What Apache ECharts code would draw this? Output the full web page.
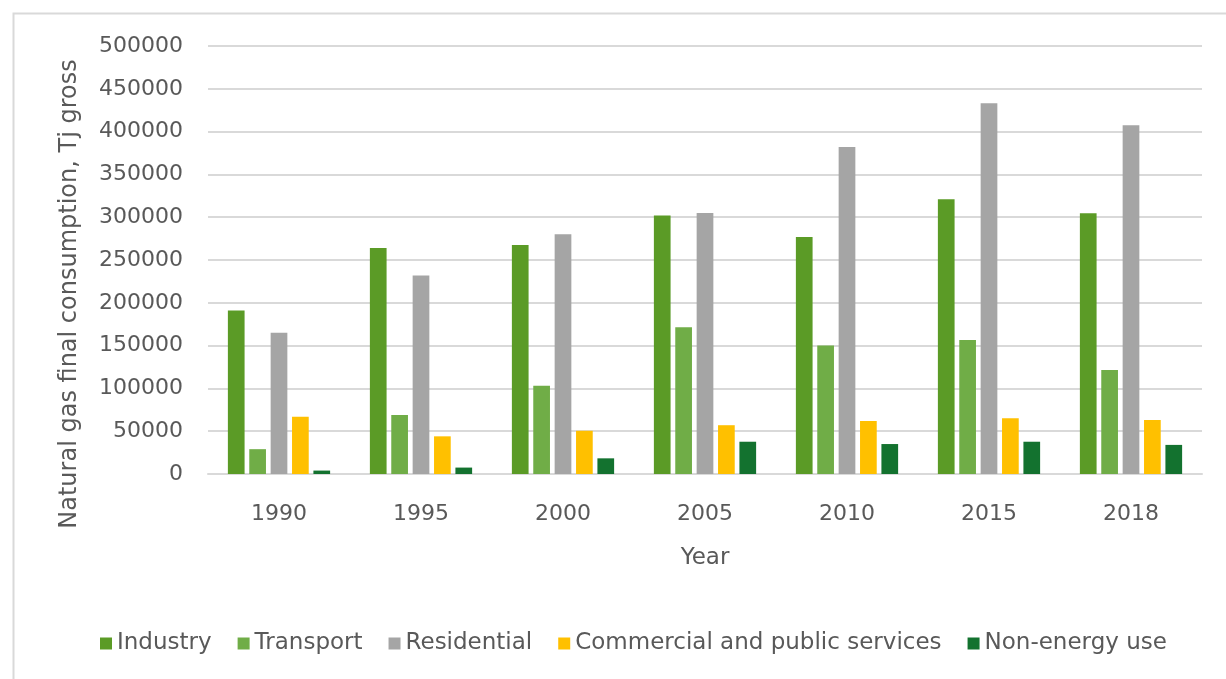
<!DOCTYPE html>
<html>
<head>
<meta charset="utf-8">
<script src="https://cdn.jsdelivr.net/npm/echarts@6/dist/echarts.min.js"></script>
<style>html,body{margin:0;padding:0;background:#fff;}#c{width:1226px;height:679px;}</style>
</head>
<body>
<div id="c"></div>
<script>
const years = ['1990','1995','2000','2005','2010','2015','2018'];
const industry    = [191000, 264000, 267500, 302000, 277000, 321000, 304500];
const transport   = [29000, 69000, 103000, 171500, 150000, 156500, 121500];
const residential = [165000, 232000, 280000, 305000, 382000, 433000, 407500];
const commercial  = [67000, 44000, 50500, 57000, 62000, 65000, 63000];
const nonEnergy   = [4000, 7500, 18300, 37700, 35000, 37700, 34000];
const seriesNames = ['Industry','Transport','Residential','Commercial and public services','Non-energy use'];
const yTicks = [0, 50000, 100000, 150000, 200000, 250000, 300000, 350000, 400000, 450000, 500000];

const colors = ['#5B9B26','#70AD47','#A5A5A5','#FFC000','#13722F'];
const font = 'DejaVu Sans';
const txt = '#595959';
const chart = echarts.init(document.getElementById('c'));
const dataSets = [industry, transport, residential, commercial, nonEnergy];
chart.setOption({
  animation: false,
  color: colors,
  textStyle: { fontFamily: font },
  grid: { left: 208, right: 24, top: 46, bottom: 205, containLabel: false },
  legend: {
    left: 95, top: 627,
    itemWidth: 12, itemHeight: 12, itemGap: 26,
    icon: 'rect',
    textStyle: { fontFamily: font, fontSize: 23, color: txt },
    data: seriesNames
  },
  xAxis: {
    type: 'category', data: years,
    name: 'Year', nameLocation: 'middle', nameGap: 73,
    nameTextStyle: { fontFamily: font, fontSize: 23, color: txt },
    axisLine: { lineStyle: { color: '#d9d9d9', width: 2 } },
    axisTick: { show: false },
    axisLabel: { fontFamily: font, fontSize: 22, color: txt, margin: 29 }
  },
  yAxis: {
    type: 'value', min: yTicks[0], max: yTicks[yTicks.length-1], interval: yTicks[1]-yTicks[0],
    axisLine: { show: false }, axisTick: { show: false },
    axisLabel: { fontFamily: font, fontSize: 22, color: txt, margin: 25, formatter: v => String(v) },
    splitLine: { lineStyle: { color: '#d9d9d9', width: 2 } }
  },
  graphic: [
    { type: 'rect', left: 11, top: 11, shape: { width: 1230, height: 680 }, style: { fill: 'none', stroke: '#d9d9d9', lineWidth: 2 }, z: -1 },
    { type: 'text', x: 70, y: 294, rotation: Math.PI/2,
      style: { text: 'Natural gas final consumption, Tj gross', fontFamily: font, fontSize: 24, fill: txt, align: 'center', verticalAlign: 'middle' } }
  ],
  series: seriesNames.map((n, i) => ({
    name: n, type: 'bar', data: dataSets[i],
    barCategoryGap: '28%', barGap: '28%'
  }))
});
</script>
</body>
</html>
